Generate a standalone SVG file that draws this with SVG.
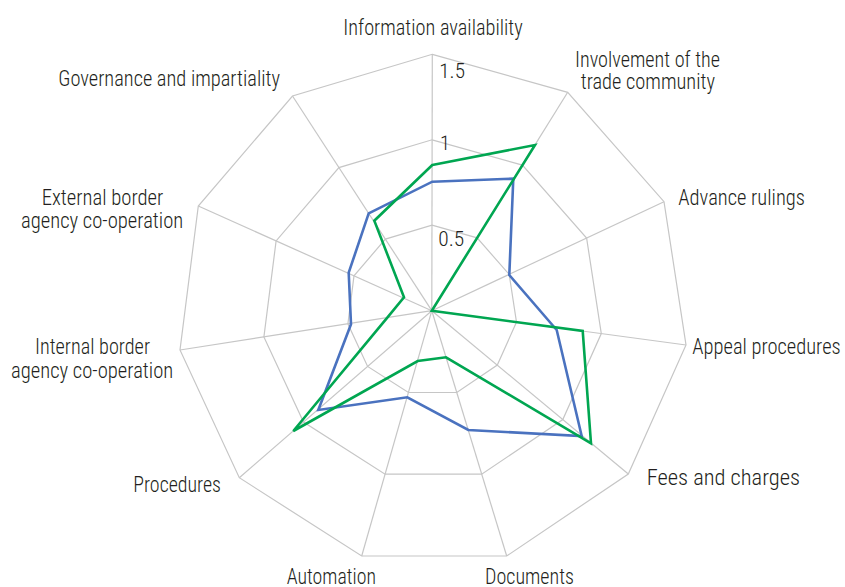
<svg xmlns="http://www.w3.org/2000/svg" width="845" height="587" viewBox="0 0 845 587">
  <style>
    .grid { fill: none; stroke: #C6C6C6; stroke-width: 1.2; }
    .spoke { stroke: #C6C6C6; stroke-width: 1.2; }
    .series { fill: none; stroke-width: 2.6; stroke-linejoin: miter; }
    .blue { stroke: #4A72BF; }
    .green { stroke: #00A651; }
    text { font-family: "Roboto Condensed", "Liberation Sans Narrow", "Liberation Sans", Arial, sans-serif; font-weight: 300; font-size: 21.5px; fill: #231F20; }
    .num { font-size: 20.5px; }
  </style>
  <rect width="845" height="587" fill="#FFFFFF"/>
  <g id="grid">
    <polygon class="grid" points="432.3,54.3 567.7,92.3 664,201.7 686,345 628.3,474 506.7,556 361.7,556 239.3,477.7 180,350 198.3,206 292.5,96"/>
    <polygon class="grid" points="432.1,139.8 522.4,165.1 586.6,238 601.3,333.6 562.8,419.6 481.7,474.2 385.1,474.2 303.5,422 263.9,336.9 276.1,240.9 338.9,167.6"/>
    <polygon class="grid" points="432,225.2 477.1,237.9 509.2,274.4 516.5,322.1 497.3,365.1 456.8,392.5 408.4,392.5 367.6,366.4 347.9,323.8 354,275.8 385.4,239.1"/>
    <g id="spokes">
      <line class="spoke" x1="431.8" y1="310.7" x2="432.3" y2="54.3"/>
      <line class="spoke" x1="431.8" y1="310.7" x2="567.7" y2="92.3"/>
      <line class="spoke" x1="431.8" y1="310.7" x2="664" y2="201.7"/>
      <line class="spoke" x1="431.8" y1="310.7" x2="686" y2="345"/>
      <line class="spoke" x1="431.8" y1="310.7" x2="628.3" y2="474"/>
      <line class="spoke" x1="431.8" y1="310.7" x2="506.7" y2="556"/>
      <line class="spoke" x1="431.8" y1="310.7" x2="361.7" y2="556"/>
      <line class="spoke" x1="431.8" y1="310.7" x2="239.3" y2="477.7"/>
      <line class="spoke" x1="431.8" y1="310.7" x2="180" y2="350"/>
      <line class="spoke" x1="431.8" y1="310.7" x2="198.3" y2="206"/>
      <line class="spoke" x1="431.8" y1="310.7" x2="292.5" y2="96"/>
    </g>
  </g>
  <g id="scale-labels">
    <text class="num" x="439.3" y="77.7" textLength="25.7" lengthAdjust="spacingAndGlyphs">1.5</text>
    <text class="num" x="440" y="150">1</text>
    <text class="num" x="438.3" y="246" textLength="26" lengthAdjust="spacingAndGlyphs">0.5</text>
  </g>
  <g id="series">
    <polygon id="series-blue" class="series blue" points="432.3,181.7 513.3,178.7 509.3,275 556.7,330 581.7,436 468.3,430 407.3,397.3 318.3,410 351,324.3 348.7,272.7 368.7,213.3"/>
    <polygon id="series-green" class="series green" points="432.3,165 535,145 431.8,310.7 582.7,331 591,443.3 446,357.3 417.7,361 293.3,431 387.3,317.6 404,297.3 374.3,220.7"/>
  </g>
  <g id="axis-labels">
    <g id="label-information"><text x="343.3" y="35" textLength="179.4" lengthAdjust="spacingAndGlyphs">Information availability</text></g>
    <g id="label-involvement">
      <text x="575" y="66.7" textLength="145" lengthAdjust="spacingAndGlyphs">Involvement of the</text>
      <text x="580.7" y="88.5" textLength="134.3" lengthAdjust="spacingAndGlyphs">trade community</text>
    </g>
    <g id="label-advance"><text x="678.3" y="205.3" textLength="126.7" lengthAdjust="spacingAndGlyphs">Advance rulings</text></g>
    <g id="label-appeal"><text x="692.3" y="354" textLength="148.4" lengthAdjust="spacingAndGlyphs">Appeal procedures</text></g>
    <g id="label-fees"><text x="646.7" y="484.5" textLength="153.3" lengthAdjust="spacingAndGlyphs">Fees and charges</text></g>
    <g id="label-documents"><text x="485" y="584" textLength="89" lengthAdjust="spacingAndGlyphs">Documents</text></g>
    <g id="label-automation"><text x="286.7" y="584" textLength="89.3" lengthAdjust="spacingAndGlyphs">Automation</text></g>
    <g id="label-procedures"><text x="133.3" y="492" textLength="87.7" lengthAdjust="spacingAndGlyphs">Procedures</text></g>
    <g id="label-internal">
      <text x="35" y="354" textLength="115" lengthAdjust="spacingAndGlyphs">Internal border</text>
      <text x="11" y="378.3" textLength="162.3" lengthAdjust="spacingAndGlyphs">agency co-operation</text>
    </g>
    <g id="label-external">
      <text x="41.7" y="205" textLength="121.6" lengthAdjust="spacingAndGlyphs">External border</text>
      <text x="21" y="228.3" textLength="162.3" lengthAdjust="spacingAndGlyphs">agency co-operation</text>
    </g>
    <g id="label-governance"><text x="58.3" y="85.5" textLength="221.7" lengthAdjust="spacingAndGlyphs">Governance and impartiality</text></g>
  </g>
</svg>
